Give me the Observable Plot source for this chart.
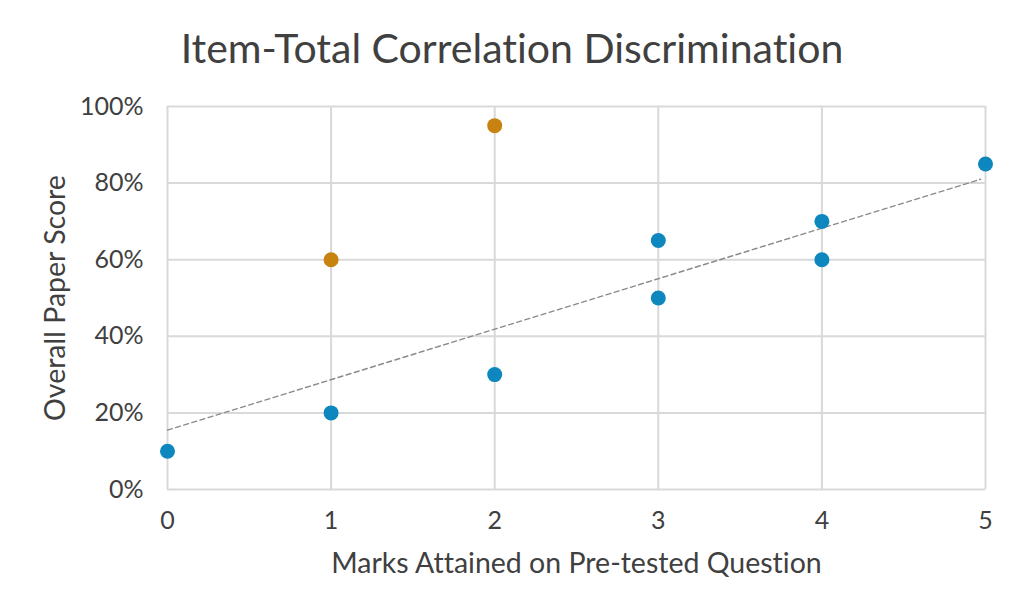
<!DOCTYPE html>
<html>
<head>
<meta charset="utf-8">
<script src="https://cdn.jsdelivr.net/npm/d3@7"></script>
<script src="https://cdn.jsdelivr.net/npm/@observablehq/plot@0.6"></script>
<style>
  body { margin: 0; background: #fff; font-family: Lato, "Open Sans", sans-serif; }
  #title { height: 90px; line-height: 96px; text-align: center; font-size: 41px; color: #404040; font-family: Lato, sans-serif; font-variant-ligatures: none; font-feature-settings: "liga" 0; }
  svg { display: block; font-variant-ligatures: none; font-feature-settings: "liga" 0; }
</style>
</head>
<body>
<div id="title">Item-Total Correlation Discrimination</div>
<div id="chart"></div>
<script>
const xTicks = [0, 1, 2, 3, 4, 5];
const yTicks = [0, 0.2, 0.4, 0.6, 0.8, 1.0];
const blueX = [0, 1, 2, 3, 3, 4, 4, 5];
const blueY = [0.10, 0.20, 0.30, 0.50, 0.65, 0.60, 0.70, 0.85];
const orangeX = [1, 2];
const orangeY = [0.60, 0.95];
const trendX = [0, 4.97];
const trendY = [0.155, 0.81];
const xTitle = "Marks Attained on Pre-tested Question";
const yTitle = "Overall Paper Score";

const blue = blueX.map((x, i) => ({x, y: blueY[i]}));
const orange = orangeX.map((x, i) => ({x, y: orangeY[i]}));
const trend = trendX.map((x, i) => ({x, y: trendY[i]}));

const chart = Plot.plot({
  width: 1024,
  height: 526,
  marginTop: 16,
  marginBottom: 127,
  marginLeft: 167,
  marginRight: 39,
  style: {fontFamily: "Lato, sans-serif", color: "#404040", background: "#fff"},
  x: {domain: [0, 5]},
  y: {domain: [0, 1]},
  marks: [
    Plot.ruleY(yTicks, {stroke: "#d9d9d9", strokeWidth: 2}),
    Plot.ruleX(xTicks, {stroke: "#d9d9d9", strokeWidth: 2}),
    Plot.axisX(xTicks, {tickSize: 0, tickPadding: 22, fontSize: 25, label: null, tickFormat: d => String(d), fill: "#404040"}),
    Plot.axisY(yTicks, {tickSize: 0, tickPadding: 24, fontSize: 25, label: null, tickFormat: d => Math.round(d * 100) + "%", fill: "#404040"}),
    Plot.line(trend, {x: "x", y: "y", stroke: "#8a8a8a", strokeWidth: 1.4, strokeDasharray: "5,3.5"}),
    Plot.dot(blue, {x: "x", y: "y", r: 7.5, fill: "#0E86BE", stroke: "none"}),
    Plot.dot(orange, {x: "x", y: "y", r: 7.5, fill: "#C8820F", stroke: "none"}),
    Plot.text([xTitle], {frameAnchor: "bottom", dy: 74, text: d => d, fontSize: 28.5, fill: "#404040", lineAnchor: "middle"}),
    Plot.text([yTitle], {frameAnchor: "left", dx: -112, rotate: -90, text: d => d, fontSize: 28.5, fill: "#404040", lineAnchor: "middle", textAnchor: "middle"})
  ]
});
document.getElementById("chart").appendChild(chart);
</script>
</body>
</html>
